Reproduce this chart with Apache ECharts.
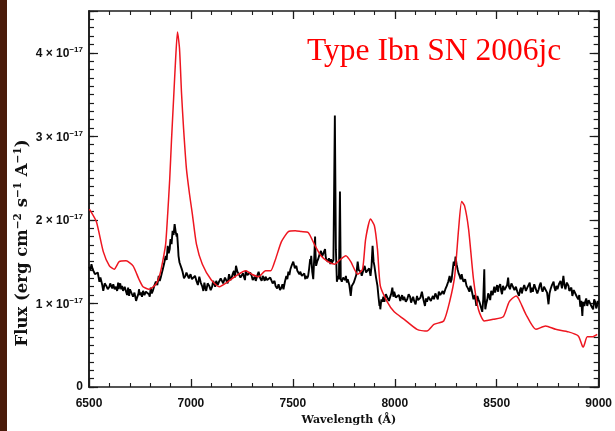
<!DOCTYPE html>
<html><head><meta charset="utf-8">
<script src="https://cdn.jsdelivr.net/npm/echarts@6/dist/echarts.min.js"></script>
<style>html,body{margin:0;padding:0;background:#fff}#c{width:615px;height:431px}</style>
</head><body><div id="c"></div>
<script>
// Wavelength in Å, flux in units of 1e-17 erg cm^-2 s^-1 Å^-1
const blackWave = [
6502,6507,6512,6517,6522,6529,6536,6543,6551,6556,6561,6565,6570,6577,6585,6592,6600,6604,6609,6614,
6619,6626,6633,6638,6643,6646,6648,6653,6658,6662,6667,6675,6682,6687,6692,6694,6697,6701,6706,6711,
6716,6723,6731,6736,6740,6743,6745,6750,6755,6760,6765,6772,6779,6787,6794,6798,6803,6808,6813,6820,
6828,6835,6842,6847,6852,6857,6862,6869,6876,6881,6886,6891,6896,6898,6900,6905,6910,6915,6920,6925,
6930,6932,6934,6937,6939,6944,6949,6954,6959,6966,6973,6978,6983,6990,6998,7005,7012,7020,7027,7034,
7041,7048,7056,7061,7066,7070,7075,7082,7090,7097,7104,7109,7114,7119,7124,7131,7138,7146,7153,7158,
7163,7167,7172,7180,7187,7194,7201,7206,7211,7216,7221,7228,7235,7243,7250,7255,7260,7265,7269,7277,
7284,7291,7298,7303,7308,7313,7318,7325,7332,7340,7347,7352,7357,7362,7366,7374,7381,7389,7396,7401,
7405,7410,7415,7423,7430,7437,7444,7449,7454,7461,7468,7473,7478,7483,7488,7495,7502,7510,7517,7522,
7527,7532,7536,7544,7551,7556,7561,7563,7566,7570,7575,7580,7585,7587,7590,7595,7600,7605,7609,7611,
7614,7619,7624,7631,7638,7643,7648,7653,7658,7660,7663,7668,7672,7677,7682,7684,7687,7692,7697,7699,
7701,7706,7711,7716,7721,7726,7731,7735,7740,7747,7755,7757,7760,7765,7769,7777,7784,7789,7794,7799,
7803,7811,7818,7823,7828,7830,7833,7838,7842,7847,7852,7859,7866,7874,7881,7886,7891,7896,7900,7908,
7915,7920,7925,7927,7929,7934,7939,7944,7949,7956,7963,7971,7978,7983,7988,7993,7997,8005,8012,8020,
8027,8032,8036,8041,8046,8054,8061,8068,8075,8080,8085,8090,8095,8102,8109,8114,8119,8126,8133,8141,
8148,8153,8158,8165,8172,8177,8182,8187,8192,8199,8206,8211,8216,8223,8230,8235,8240,8248,8255,8262,
8269,8274,8279,8284,8289,8294,8298,8303,8308,8313,8318,8323,8328,8332,8337,8345,8352,8359,8366,8371,
8376,8381,8386,8393,8400,8403,8405,8410,8415,8422,8429,8434,8439,8441,8444,8449,8454,8458,8463,8468,
8473,8480,8488,8492,8497,8502,8507,8509,8512,8517,8522,8526,8531,8538,8546,8551,8556,8560,8565,8572,
8580,8587,8594,8601,8609,8614,8619,8623,8628,8635,8643,8650,8657,8662,8667,8672,8677,8684,8691,8699,
8706,8711,8716,8720,8725,8732,8740,8747,8754,8759,8764,8771,8779,8783,8788,8793,8798,8805,8813,8820,
8827,8832,8837,8844,8852,8856,8861,8866,8871,8878,8886,8893,8900,8905,8910,8915,8920,8922,8925,8930,
8934,8939,8944,8951,8959,8966,8973,8978,8983,8988,8992,8995,8997];
const blackFlux = [
1.44,1.40,1.47,1.42,1.39,1.35,1.33,1.37,1.26,1.31,1.29,1.22,1.15,1.24,1.21,1.17,1.20,1.24,1.26,1.18,
1.23,1.17,1.20,1.15,1.25,1.17,1.21,1.24,1.17,1.21,1.15,1.20,1.14,1.10,1.19,1.13,1.09,1.17,1.14,1.11,
1.08,1.13,1.03,1.07,1.09,1.12,1.17,1.10,1.13,1.08,1.15,1.10,1.14,1.16,1.11,1.08,1.19,1.12,1.15,1.21,
1.26,1.22,1.33,1.27,1.31,1.36,1.41,1.48,1.57,1.52,1.69,1.60,1.65,1.72,1.77,1.71,1.87,1.82,1.95,1.86,
1.80,1.84,1.77,1.66,1.57,1.49,1.51,1.42,1.38,1.30,1.33,1.37,1.39,1.30,1.35,1.29,1.27,1.33,1.27,1.22,
1.32,1.25,1.20,1.15,1.25,1.19,1.15,1.24,1.21,1.16,1.20,1.27,1.26,1.20,1.27,1.22,1.26,1.30,1.32,1.24,
1.25,1.31,1.29,1.24,1.35,1.28,1.32,1.36,1.39,1.31,1.45,1.38,1.35,1.31,1.29,1.36,1.34,1.28,1.39,1.34,
1.32,1.37,1.33,1.28,1.26,1.32,1.27,1.33,1.38,1.30,1.27,1.33,1.34,1.27,1.32,1.28,1.26,1.31,1.29,1.24,
1.23,1.27,1.21,1.18,1.23,1.16,1.19,1.23,1.17,1.26,1.33,1.29,1.38,1.34,1.41,1.46,1.50,1.42,1.45,1.39,
1.41,1.35,1.38,1.33,1.32,1.36,1.29,1.33,1.35,1.30,1.33,1.42,1.53,1.47,1.57,1.38,1.29,1.55,1.80,1.60,
1.45,1.50,1.53,1.59,1.63,1.56,1.58,1.62,1.65,1.58,1.53,1.55,1.50,1.54,1.50,1.47,1.53,1.49,1.51,1.52,
1.50,3.25,1.65,1.26,1.33,1.29,2.34,1.29,1.26,1.31,1.33,1.28,1.33,1.25,1.29,1.22,1.09,1.21,1.20,1.25,
1.27,1.34,1.50,1.40,1.38,1.42,1.38,1.33,1.35,1.41,1.45,1.37,1.38,1.42,1.33,1.45,1.69,1.50,1.45,1.31,
1.21,1.08,0.97,1.00,0.93,1.05,1.02,1.08,1.02,1.11,1.09,1.03,1.05,1.12,1.19,1.08,1.14,1.07,1.05,1.10,
1.03,1.07,1.10,1.04,1.08,1.02,1.05,1.11,1.08,1.01,1.02,1.08,1.03,0.99,1.09,1.04,1.02,1.07,1.14,1.04,
0.97,1.06,1.02,1.08,1.09,1.03,1.04,1.09,1.05,1.12,1.10,1.05,1.14,1.10,1.08,1.15,1.11,1.17,1.21,1.26,
1.33,1.25,1.29,1.40,1.50,1.45,1.56,1.47,1.41,1.36,1.33,1.29,1.35,1.30,1.26,1.29,1.21,1.18,1.14,1.21,
1.17,1.11,1.05,1.10,0.97,1.03,1.09,1.05,1.02,0.96,0.90,1.05,1.41,1.10,0.93,1.00,1.05,1.12,1.09,1.04,
1.15,1.10,1.20,1.13,1.15,1.22,1.14,1.19,1.17,1.23,1.15,1.11,1.21,1.16,1.17,1.22,1.31,1.20,1.17,1.24,
1.23,1.16,1.20,1.14,1.09,1.16,1.19,1.12,1.17,1.22,1.15,1.19,1.20,1.25,1.13,1.19,1.14,1.23,1.21,1.12,
1.17,1.22,1.25,1.18,1.14,1.20,1.21,1.13,0.99,1.12,1.17,1.22,1.26,1.19,1.15,1.21,1.17,1.23,1.27,1.18,
1.33,1.22,1.17,1.25,1.21,1.15,1.13,1.19,1.09,1.16,1.14,1.08,1.05,1.10,0.96,1.03,0.85,0.95,1.02,0.97,
1.02,1.06,0.97,1.04,1.02,0.96,0.93,1.05,1.02,0.94,0.97,1.03,0.99];
const redWave = [
6502,6536,6570,6600,6624,6648,6682,6716,6745,6765,
6794,6828,6847,6862,6876,6886,6896,6905,6915,6925,
6934,6944,6954,6964,6978,6993,7007,7027,7056,7100,
7139,7187,7221,7269,7298,7332,7366,7391,7415,7444,
7478,7512,7541,7575,7609,7638,7672,7706,7735,7760,
7784,7818,7842,7857,7881,7900,7915,7929,7963,7997,
8046,8109,8158,8192,8240,8269,8294,8313,8328,8342,
8362,8386,8410,8439,8483,8532,8561,8595,8609,8643,
8692,8740,8789,8852,8900,8920,8925,8944,8968,8993];
const redFlux = [
2.13,1.98,1.62,1.45,1.41,1.50,1.51,1.45,1.29,1.20,
1.17,1.23,1.34,1.51,1.71,2.07,2.49,2.97,3.45,3.93,
4.25,4.05,3.51,3.09,2.61,2.31,2.07,1.71,1.47,1.28,
1.20,1.27,1.33,1.39,1.35,1.32,1.39,1.39,1.53,1.74,
1.86,1.87,1.86,1.85,1.69,1.57,1.50,1.47,1.53,1.57,
1.50,1.35,1.41,1.77,2.01,1.93,1.65,1.21,1.02,0.90,
0.81,0.69,0.67,0.75,0.79,1.02,1.33,1.89,2.22,2.17,
1.89,1.29,0.93,0.79,0.81,0.84,1.02,1.09,1.05,0.87,
0.69,0.73,0.69,0.66,0.61,0.49,0.48,0.60,0.60,0.63];
const xTicks = [6500, 7000, 7500, 8000, 8500, 9000];
const yTickValues = [0, 1, 2, 3, 4];
const yExponent = '−17';
const xTitle = 'Wavelength (Å)';
const annotation = 'Type Ibn SN 2006jc';

const pairs = (w, f) => w.map((x, i) => [x, f[i]]);
const axisColor = '#1c1c1c';
const xMin = xTicks[0], xMax = xTicks[xTicks.length - 1];
const yMin = 0, yMax = 4.5;

function xAxis(pos, labels) {
  return {
    type: 'value', position: pos, min: xMin, max: xMax, interval: 500,
    axisLine: { show: true, onZero: false, lineStyle: { color: axisColor, width: 1.6 } },
    axisTick: { show: true, inside: true, length: 8, lineStyle: { color: axisColor, width: 1.3 } },
    minorTick: { show: true, splitNumber: 5, length: 4, lineStyle: { color: axisColor, width: 1.1 } },
    splitLine: { show: false }, minorSplitLine: { show: false },
    axisLabel: { show: labels, margin: 11, formatter: v => String(v),
      fontFamily: 'Liberation Sans', fontWeight: 'bold', fontSize: 12, color: '#111' },
    name: labels ? xTitle : '', nameLocation: 'middle', nameGap: 28,
    nameTextStyle: { fontFamily: 'DejaVu Serif', fontWeight: 'bold', fontSize: 11, color: '#111', padding: [0, 0, 0, 10] }
  };
}
function yAxis(pos, interval, tickLen, labels) {
  return {
    type: 'value', position: pos, min: yMin, max: yMax, interval: interval,
    axisLine: { show: true, onZero: false, lineStyle: { color: axisColor, width: 1.6 } },
    axisTick: { show: true, inside: true, length: tickLen, lineStyle: { color: axisColor, width: 1.2 } },
    splitLine: { show: false },
    axisLabel: {
      show: labels, margin: 6,
      formatter: v => {
        if (yTickValues.indexOf(v) < 0) return '';
        return v === 0 ? '{a|0}' : '{a|' + v + ' × 10}{s|' + yExponent + '}';
      },
      rich: {
        a: { fontFamily: 'Liberation Sans', fontWeight: 'bold', fontSize: 12, color: '#111', verticalAlign: 'bottom' },
        s: { fontFamily: 'Liberation Sans', fontWeight: 'bold', fontSize: 8, color: '#111', verticalAlign: 'bottom', padding: [0, 0, 6, 0] }
      }
    }
  };
}

const chart = echarts.init(document.getElementById('c'));
chart.setOption({
  animation: false,
  backgroundColor: '#ffffff',
  grid: { left: 89, right: 11, top: 11, bottom: 43, containLabel: false },
  xAxis: [xAxis('bottom', true), xAxis('top', false)],
  yAxis: [yAxis('left', 1, 9, true), yAxis('left', 0.1, 5, false), yAxis('right', 1, 9, false), yAxis('right', 0.1, 5, false)],
  series: [
    { type: 'line', name: 'SN 2006jc (black)', data: pairs(blackWave, blackFlux), xAxisIndex: 0, yAxisIndex: 0,
      showSymbol: false, lineStyle: { color: '#000000', width: 1.9 }, z: 2 },
    { type: 'line', name: 'SN 2006jc (red)', data: pairs(redWave, redFlux), xAxisIndex: 0, yAxisIndex: 0,
      showSymbol: false, smooth: 0.2, lineStyle: { color: '#ee1620', width: 1.5 }, z: 3 }
  ],
  graphic: [
    { type: 'rect', shape: { x: 0, y: 0, width: 7, height: 431 }, style: { fill: '#4a1b0a' }, silent: true },
    { type: 'text', x: 22, y: 243, rotation: Math.PI / 2,
      style: {
        text: '{t|Flux (erg cm}{s|−2}{t| s}{s|−1}{t| A}{s|−1}{t|)}',
        align: 'center', verticalAlign: 'middle',
        rich: {
          t: { fontFamily: 'DejaVu Serif', fontWeight: 'bold', fontSize: 16.5, fill: '#111', verticalAlign: 'bottom' },
          s: { fontFamily: 'DejaVu Serif', fontWeight: 'bold', fontSize: 10.5, fill: '#111', verticalAlign: 'bottom', padding: [0, 0, 8, 0] }
        }
      } },
    { type: 'text', x: 307, y: 51.5,
      style: { text: annotation, fontFamily: 'Liberation Serif', fontSize: 31.5, fill: '#ff0000', verticalAlign: 'middle' } }
  ]
});
</script>
</body></html>
